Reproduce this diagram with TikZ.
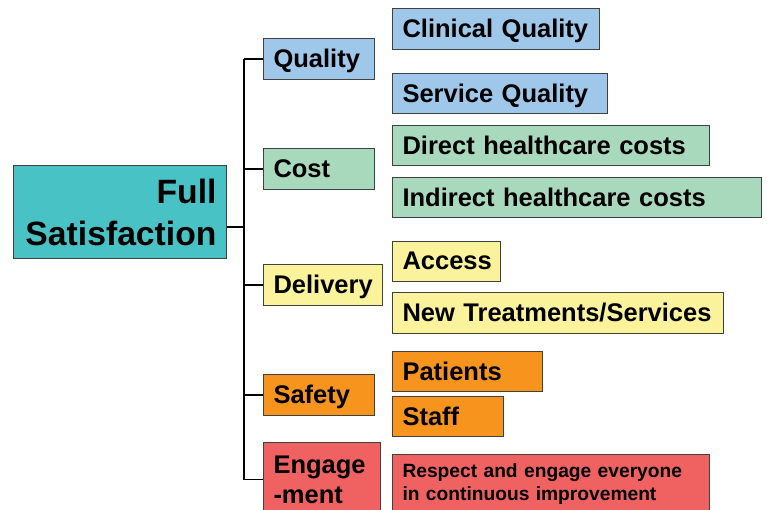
\documentclass[tikz,border=0pt]{standalone}
\usepackage{fontspec}
\setmainfont{Liberation Sans}

\definecolor{rootteal}{RGB}{72,194,197}
\definecolor{qualblue}{RGB}{159,199,233}
\definecolor{costgreen}{RGB}{169,217,188}
\definecolor{delyellow}{RGB}{250,243,155}
\definecolor{safeorange}{RGB}{247,148,30}
\definecolor{engred}{RGB}{240,98,98}

\begin{document}
\begin{tikzpicture}[x=1pt, y=-1pt,
  box/.style={draw=black!75, line width=1pt, fill=#1, inner xsep=10pt,
    inner ysep=0pt, align=left, anchor=north west,
    font=\bfseries\fontsize{25.5}{30}\selectfont},
  word/.style={box=#1, text depth=1pt},
  link/.style={draw=black, line width=1.2pt}]
\clip (0,0) rectangle (767,510);

% top of the tree
\node[box=rootteal, align=right, text width=193pt, minimum height=93pt,
  font=\bfseries\fontsize{33.7}{42}\selectfont] (root) at (13,165)
  {Full\\Satisfaction};

% second level
\node[word=qualblue, text width=91pt, minimum height=41pt] (quality) at (263,38) {Quality};
\node[word=costgreen, text width=91pt, minimum height=41pt] (cost) at (263,148) {Cost};
\node[word=delyellow, text width=99pt, minimum height=41pt] (delivery) at (263,264) {Delivery};
\node[word=safeorange, text width=91pt, minimum height=41pt] (safety) at (263,374) {Safety};
\node[box=engred, text width=97pt, minimum height=74pt] (engage) at (263,442) {Engage\\-ment};

% third level
\node[word=qualblue, text width=187pt, minimum height=41pt] (clinical) at (392,8) {Clinical Quality};
\node[word=qualblue, text width=195pt, minimum height=40pt] (service) at (392,73) {Service Quality};
\node[word=costgreen, text width=297pt, minimum height=40pt] (direct) at (392,125) {Direct healthcare costs};
\node[word=costgreen, text width=349pt, minimum height=40pt] (indirect) at (392,177) {Indirect healthcare costs};
\node[word=delyellow, text width=88pt, minimum height=40pt] (access) at (392,241) {Access};
\node[word=delyellow, text width=311pt, minimum height=41pt] (newtreat) at (392,292) {New Treatments/Services};
\node[word=safeorange, text width=130pt, minimum height=40pt] (patients) at (392,351) {Patients};
\node[word=safeorange, text width=91pt, minimum height=40pt] (staff) at (392,396) {Staff};
\node[box=engred, text width=297pt, minimum height=60pt,
  font=\bfseries\fontsize{19.2}{23}\selectfont] (respect) at (392,454)
  {Respect and engage everyone\\in continuous improvement};

% connectors
\coordinate (trunk) at (244,0);
\coordinate (rootout) at ([yshift=-15pt]root.east);
\draw[link] (rootout) -- (rootout -| trunk);
\draw[link] (trunk |- quality.west) -- (trunk |- engage.west);
\foreach \n in {quality,cost,delivery,safety,engage}
  \draw[link] (trunk |- \n.west) -- (\n.west);
\end{tikzpicture}
\end{document}
